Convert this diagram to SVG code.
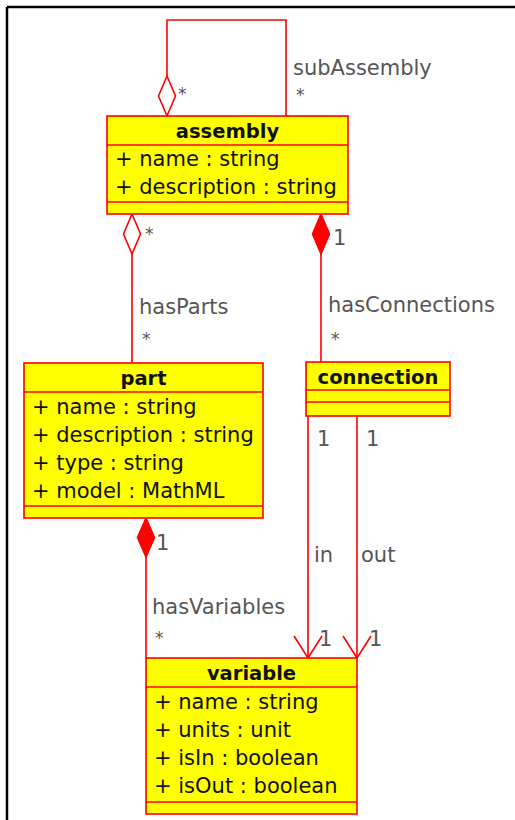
<svg xmlns="http://www.w3.org/2000/svg" width="515" height="820" viewBox="0 0 515 820">
<style>
.box{fill:#ffff00;stroke:#ff0000;stroke-width:1.6}
.sep{stroke:#ff0000;stroke-width:1.6}
.ln{fill:none;stroke:#ff0000;stroke-width:1.6}
.od{fill:#ffffff;stroke:#ff0000;stroke-width:1.6}
.fd{fill:#ff0000;stroke:#ff0000;stroke-width:1.6}
.t{font-family:"DejaVu Sans",sans-serif;font-size:21px;fill:#111}
.h{font-family:"DejaVu Sans",sans-serif;font-size:19.5px;font-weight:bold;fill:#111;text-anchor:middle}
.l{font-family:"DejaVu Sans",sans-serif;font-size:21px;fill:#555}
.s{font-family:"DejaVu Sans",sans-serif;font-size:17px;fill:#555}
</style>
<rect x="0" y="0" width="515" height="820" fill="#ffffff"/>
<line x1="7" y1="7" x2="515" y2="7" stroke="#000" stroke-width="2.5"/>
<line x1="7" y1="7" x2="7" y2="820" stroke="#000" stroke-width="2.5"/>
<g id="connectors">
<path class="ln" d="M167,76 V20 H286 V116"/>
<polygon class="od" points="167,116 175.5,96 167,76 158.5,96"/>
<line class="ln" x1="132" y1="254" x2="132" y2="363"/>
<polygon class="od" points="132,214 140.5,234 132,254 123.5,234"/>
<line class="ln" x1="321" y1="254" x2="321" y2="362"/>
<polygon class="fd" points="321,214 329.5,234 321,254 312.5,234"/>
<line class="ln" x1="146" y1="557" x2="146" y2="658"/>
<polygon class="fd" points="146,518 154.5,537.5 146,557 137.5,537.5"/>
<line class="ln" x1="308" y1="416" x2="308" y2="658"/>
<polyline class="ln" points="294,636 308,658 322,636"/>
<line class="ln" x1="357" y1="416" x2="357" y2="658"/>
<polyline class="ln" points="343,636 357,658 371,636"/>
<text class="s" x="178" y="100">*</text>
<text class="l" x="293" y="75">subAssembly</text>
<text class="s" x="296" y="101">*</text>
<text class="s" x="145" y="240">*</text>
<text class="l" x="139" y="314">hasParts</text>
<text class="s" x="142" y="345">*</text>
<text class="l" x="333" y="245">1</text>
<text class="l" x="328" y="312">hasConnections</text>
<text class="s" x="331" y="345">*</text>
<text class="l" x="317" y="446">1</text>
<text class="l" x="366" y="446">1</text>
<text class="l" x="314" y="562">in</text>
<text class="l" x="361" y="562">out</text>
<text class="l" x="319" y="646">1</text>
<text class="l" x="369" y="646">1</text>
<text class="l" x="156" y="550">1</text>
<text class="l" x="152" y="614">hasVariables</text>
<text class="s" x="155" y="644">*</text>
</g>
<g id="assembly">
<rect class="box" x="107" y="116" width="241" height="98"/>
<line class="sep" x1="107" y1="145" x2="348" y2="145"/>
<line class="sep" x1="107" y1="202" x2="348" y2="202"/>
<text class="h" x="227.5" y="138">assembly</text>
<text class="t" x="115" y="166">+ name : string</text>
<text class="t" x="115" y="194">+ description : string</text>
</g>
<g id="part">
<rect class="box" x="24" y="363" width="239" height="155"/>
<line class="sep" x1="24" y1="392" x2="263" y2="392"/>
<line class="sep" x1="24" y1="506" x2="263" y2="506"/>
<text class="h" x="143.5" y="385">part</text>
<text class="t" x="32" y="414">+ name : string</text>
<text class="t" x="32" y="442">+ description : string</text>
<text class="t" x="32" y="470">+ type : string</text>
<text class="t" x="32" y="498">+ model : MathML</text>
</g>
<g id="connection">
<rect class="box" x="306" y="362" width="144" height="54"/>
<line class="sep" x1="306" y1="390" x2="450" y2="390"/>
<line class="sep" x1="306" y1="402" x2="450" y2="402"/>
<text class="h" x="378" y="384">connection</text>
</g>
<g id="variable">
<rect class="box" x="146" y="658" width="211" height="156"/>
<line class="sep" x1="146" y1="687" x2="357" y2="687"/>
<line class="sep" x1="146" y1="802" x2="357" y2="802"/>
<text class="h" x="251.5" y="680">variable</text>
<text class="t" x="154" y="709">+ name : string</text>
<text class="t" x="154" y="737">+ units : unit</text>
<text class="t" x="154" y="765">+ isIn : boolean</text>
<text class="t" x="154" y="793">+ isOut : boolean</text>
</g>
</svg>
